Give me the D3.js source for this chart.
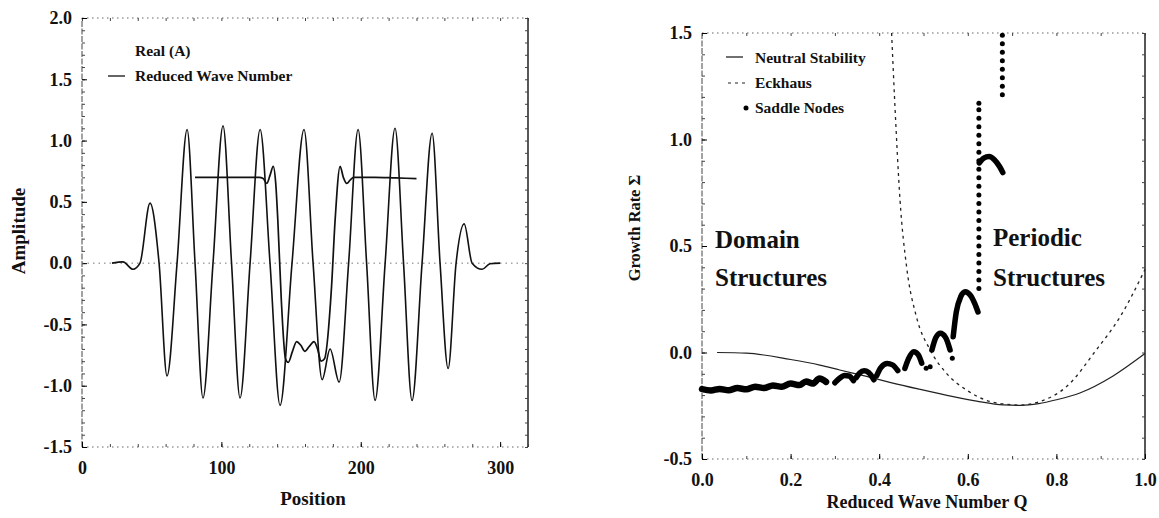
<!DOCTYPE html>
<html>
<head>
<meta charset="utf-8">
<script src="https://cdn.jsdelivr.net/npm/d3@7"></script>
<style>
  body { margin: 0; background: #fff; }
  text { font-family: "Liberation Serif", "Times New Roman", serif; font-weight: bold; fill: #111; }
</style>
</head>
<body>
<div id="chart"></div>
<script>

// ---- left panel: amplitude vs position ----
var realPos = [21.5, 29.4, 36.6, 41.6, 48.8, 55.3, 61.0, 68.2, 75.4, 81.1, 86.8, 94.0, 101.2, 107.3, 113.4,
  120.6, 127.8, 134.9, 142.1, 150.7, 159.3, 165.8, 172.3, 178.0, 184.5, 191.3, 198.1, 204.2, 210.3,
  217.5, 224.6, 230.7, 236.8, 244.0, 251.2, 256.9, 262.7, 268.4, 274.2, 279.9, 287.1, 292.8, 300];
var realAmp = [0, 0.01, -0.05, 0, 0.49, 0, -0.92, 0, 1.09, 0, -1.10, 0, 1.12, 0, -1.10,
  0, 1.09, 0, -1.16, 0, 1.09, 0, -0.95, -0.70, -0.97, 0, 1.09, 0, -1.12,
  0, 1.10, 0, -1.12, 0, 1.06, 0, -0.86, 0, 0.32, 0, -0.05, -0.005, 0];

var wavePos = [81.1, 100, 120, 127, 130, 132.5, 135, 137.2, 139, 140.5, 143, 146, 148, 151, 154, 157,
  160, 163, 166.5, 169, 171.6, 174, 179, 181.6, 185.2, 187.5, 190, 192.5, 195, 210, 225, 240];
var waveVal = [0.70, 0.70, 0.70, 0.70, 0.69, 0.65, 0.72, 0.79, 0.65, 0.35, -0.30, -0.78, -0.81, -0.72, -0.64, -0.67,
  -0.72, -0.68, -0.64, -0.70, -0.80, -0.78, -0.20, 0.35, 0.79, 0.70, 0.65, 0.68, 0.70, 0.70, 0.695, 0.69];

var leftXTicks = [0, 100, 200, 300];
var leftYTicks = [-1.5, -1.0, -0.5, 0.0, 0.5, 1.0, 1.5, 2.0];

// ---- right panel: growth rate vs reduced wave number ----
var neutralQ = [0.034, 0.1, 0.2, 0.266, 0.311, 0.367, 0.424, 0.49, 0.567, 0.62, 0.68, 0.72, 0.76, 0.80, 0.853, 0.928, 1.0];
var neutralS = [0.0, -0.003, -0.033, -0.059, -0.082, -0.11, -0.14, -0.172, -0.207, -0.228, -0.246, -0.248, -0.24, -0.222, -0.19, -0.11, -0.005];

var eckhausQ = [0.428, 0.435, 0.447, 0.462, 0.484, 0.515, 0.552, 0.597, 0.65, 0.70, 0.72, 0.763, 0.823, 0.89, 0.944, 1.0];
var eckhausS = [1.5, 1.18, 0.716, 0.40, 0.168, 0.012, -0.098, -0.176, -0.23, -0.245, -0.247, -0.23, -0.16, 0.012, 0.168, 0.39];

// saddle node branches, each one a run of dense points
var saddleBranches = [
  [[0, -0.172], [0.02, -0.178], [0.04, -0.171], [0.06, -0.177], [0.08, -0.167], [0.10, -0.173], [0.12, -0.161],
   [0.14, -0.167], [0.16, -0.155], [0.18, -0.161], [0.20, -0.146], [0.22, -0.153], [0.235, -0.136], [0.25, -0.146],
   [0.265, -0.122], [0.28, -0.138]],
  [[0.300, -0.142], [0.310, -0.122], [0.322, -0.108], [0.332, -0.110], [0.342, -0.132]],
  [[0.348, -0.118], [0.356, -0.096], [0.366, -0.086], [0.376, -0.094], [0.388, -0.128]],
  [[0.394, -0.110], [0.404, -0.070], [0.418, -0.052], [0.430, -0.058], [0.442, -0.085]],
  [[0.458, -0.075], [0.466, -0.030], [0.478, 0.004], [0.488, -0.010], [0.496, -0.050]],
  [[0.519, 0.012], [0.528, 0.070], [0.538, 0.090], [0.550, 0.070], [0.560, 0.012]],
  [[0.567, 0.074], [0.574, 0.190], [0.584, 0.262], [0.594, 0.285], [0.606, 0.268], [0.616, 0.228], [0.623, 0.190]],
  [[0.626, 0.890], [0.636, 0.913], [0.648, 0.920], [0.660, 0.905], [0.672, 0.872], [0.679, 0.845]]
];
// single saddle nodes (the two columns and a few strays)
var saddleColumnLow = [0.30, 0.34, 0.38, 0.42, 0.46, 0.50, 0.54, 0.58, 0.62, 0.66, 0.70, 0.74,
  0.78, 0.82, 0.86, 0.90, 0.94, 0.98, 1.02, 1.06, 1.10, 1.14, 1.17];
var saddleColumnHigh = [1.21, 1.25, 1.29, 1.33, 1.37, 1.41, 1.45, 1.49];
var saddleStrays = [[0.506, -0.074], [0.515, -0.067], [0.565, -0.027]];

var rightXTicks = [0.0, 0.2, 0.4, 0.6, 0.8, 1.0];
var rightYTicks = [-0.5, 0.0, 0.5, 1.0, 1.5];

var svg = d3.select('#chart').append('svg')
  .attr('width', 1159)
  .attr('height', 518)
  .style('background', '#fff');

function fmt1(d) { return d.toFixed(1); }

// frame with inward ticks: solid left/right, dotted top/bottom like the scan
function drawFrame(x, y, xMinor, xMajor, xFormat, yMinor, yMajor) {
  var x0 = x.range()[0], x1 = x.range()[1], y0 = y.range()[0], y1 = y.range()[1];
  var g = svg.append('g');

  g.append('line').attr('x1', x0).attr('x2', x1).attr('y1', y1).attr('y2', y1)
    .attr('stroke', '#666').attr('stroke-dasharray', '1.5,3.5');
  g.append('line').attr('x1', x0).attr('x2', x1).attr('y1', y0).attr('y2', y0)
    .attr('stroke', '#666').attr('stroke-dasharray', '1.5,3.5');
  g.append('line').attr('x1', x0).attr('x2', x0).attr('y1', y0).attr('y2', y1)
    .attr('stroke', '#444').attr('stroke-width', 1).attr('stroke-dasharray', '6,1.5');
  g.append('line').attr('x1', x1).attr('x2', x1).attr('y1', y0).attr('y2', y1)
    .attr('stroke', '#111').attr('stroke-width', 1.4);

  var axes = [
    [d3.axisLeft(y), x0, 0], [d3.axisRight(y), x1, 0],
    [d3.axisTop(x), 0, y1], [d3.axisBottom(x), 0, y0]
  ];
  axes.forEach(function(a, i) {
    var vertical = i < 2;
    var minor = g.append('g').attr('transform', 'translate(' + a[1] + ',' + a[2] + ')')
      .call(a[0].tickValues(vertical ? yMinor : xMinor).tickSize(-3).tickSizeOuter(0).tickFormat(''));
    minor.select('.domain').remove();
    minor.selectAll('line').attr('stroke', '#444');
  });

  var yl = g.append('g').attr('transform', 'translate(' + x0 + ',0)')
    .call(d3.axisLeft(y).tickValues(yMajor).tickSize(-5).tickSizeOuter(0).tickPadding(10).tickFormat(fmt1));
  yl.select('.domain').remove();
  yl.selectAll('text').style('font-size', '18px').attr('fill', '#111');

  var xl = g.append('g').attr('transform', 'translate(0,' + y0 + ')')
    .call(d3.axisBottom(x).tickValues(xMajor).tickSize(-5).tickSizeOuter(0).tickPadding(14).tickFormat(xFormat));
  xl.select('.domain').remove();
  xl.selectAll('text').style('font-size', '18px').attr('fill', '#111');
  return g;
}

// ================= left panel =================
var xL = d3.scaleLinear().domain([0, 320]).range([82, 528]);
var yL = d3.scaleLinear().domain([-1.5, 2.0]).range([447, 18]);

drawFrame(xL, yL, d3.range(0, 321, 20), leftXTicks, function(d) { return d; },
  d3.range(-15, 21).map(function(d) { return d / 10; }), leftYTicks);

// dotted zero reference
svg.append('line')
  .attr('x1', xL(0)).attr('x2', xL(320)).attr('y1', yL(0)).attr('y2', yL(0))
  .attr('stroke', '#777').attr('stroke-dasharray', '1.5,4');

var lineL = d3.line()
  .x(function(d) { return xL(d[0]); })
  .y(function(d) { return yL(d[1]); })
  .curve(d3.curveMonotoneX);

svg.append('path')
  .datum(d3.zip(realPos, realAmp))
  .attr('d', lineL)
  .attr('fill', 'none').attr('stroke', '#111').attr('stroke-width', 1.6);

svg.append('path')
  .datum(d3.zip(wavePos, waveVal))
  .attr('d', lineL)
  .attr('fill', 'none').attr('stroke', '#111').attr('stroke-width', 1.7);

// legend
svg.append('text').attr('x', 135).attr('y', 56).style('font-size', '15.5px').text('Real (A)');
svg.append('line').attr('x1', 108).attr('x2', 125).attr('y1', 76).attr('y2', 76)
  .attr('stroke', '#111').attr('stroke-width', 1.3);
svg.append('text').attr('x', 135).attr('y', 81).style('font-size', '15.5px').text('Reduced Wave Number');

svg.append('text')
  .attr('transform', 'translate(25,231) rotate(-90)')
  .attr('text-anchor', 'middle')
  .style('font-size', '19px')
  .text('Amplitude');
svg.append('text')
  .attr('x', 313).attr('y', 505)
  .attr('text-anchor', 'middle')
  .style('font-size', '19px')
  .text('Position');

// ================= right panel =================
var xR = d3.scaleLinear().domain([0, 1]).range([702, 1145]);
var yR = d3.scaleLinear().domain([-0.5, 1.5]).range([459, 33]);

drawFrame(xR, yR, d3.range(0, 11).map(function(d) { return d / 10; }), rightXTicks, fmt1,
  d3.range(-5, 16).map(function(d) { return d / 10; }), rightYTicks);

var lineR = d3.line()
  .x(function(d) { return xR(d[0]); })
  .y(function(d) { return yR(d[1]); })
  .curve(d3.curveMonotoneX);

svg.append('path')
  .datum(d3.zip(neutralQ, neutralS))
  .attr('d', lineR)
  .attr('fill', 'none').attr('stroke', '#222').attr('stroke-width', 1.2);

svg.append('path')
  .datum(d3.zip(eckhausQ, eckhausS))
  .attr('d', lineR)
  .attr('fill', 'none').attr('stroke', '#222').attr('stroke-width', 1.3)
  .attr('stroke-dasharray', '3,4');

svg.append('g').selectAll('path')
  .data(saddleBranches)
  .enter()
  .append('path')
  .attr('d', lineR)
  .attr('fill', 'none')
  .attr('stroke', '#000')
  .attr('stroke-linecap', 'round')
  .attr('stroke-width', function(d, i) { return i == 0 ? 6.5 : 5.5; });

var saddleDots = saddleColumnLow.map(function(s) { return [0.625, s]; })
  .concat(saddleColumnHigh.map(function(s) { return [0.678, s]; }))
  .concat(saddleStrays);

svg.append('g').selectAll('circle')
  .data(saddleDots)
  .enter()
  .append('circle')
  .attr('cx', function(d) { return xR(d[0]); })
  .attr('cy', function(d) { return yR(d[1]); })
  .attr('r', 2.5)
  .attr('fill', '#000');

// legend
svg.append('line').attr('x1', 726).attr('x2', 743).attr('y1', 57).attr('y2', 57)
  .attr('stroke', '#222').attr('stroke-width', 1.3);
svg.append('text').attr('x', 755).attr('y', 63).style('font-size', '15.5px').text('Neutral Stability');
svg.append('line').attr('x1', 728).attr('x2', 748).attr('y1', 83).attr('y2', 83)
  .attr('stroke', '#222').attr('stroke-width', 1.2).attr('stroke-dasharray', '3,4');
svg.append('text').attr('x', 755).attr('y', 88).style('font-size', '15.5px').text('Eckhaus');
svg.append('circle').attr('cx', 746).attr('cy', 108).attr('r', 2.5).attr('fill', '#000');
svg.append('text').attr('x', 755).attr('y', 113).style('font-size', '15.5px').text('Saddle Nodes');

// region labels
var regions = [[715, 248, 'Domain'], [715, 286, 'Structures'], [993, 246, 'Periodic'], [993, 286, 'Structures']];
svg.append('g').selectAll('text')
  .data(regions)
  .enter()
  .append('text')
  .attr('x', function(d) { return d[0]; })
  .attr('y', function(d) { return d[1]; })
  .style('font-size', '25px')
  .text(function(d) { return d[2]; });

svg.append('text')
  .attr('transform', 'translate(640,228) rotate(-90)')
  .attr('text-anchor', 'middle')
  .style('font-size', '16.5px')
  .text('Growth Rate Σ');
svg.append('text')
  .attr('x', 927).attr('y', 508)
  .attr('text-anchor', 'middle')
  .style('font-size', '18px')
  .text('Reduced Wave Number Q');

</script>
</body>
</html>
